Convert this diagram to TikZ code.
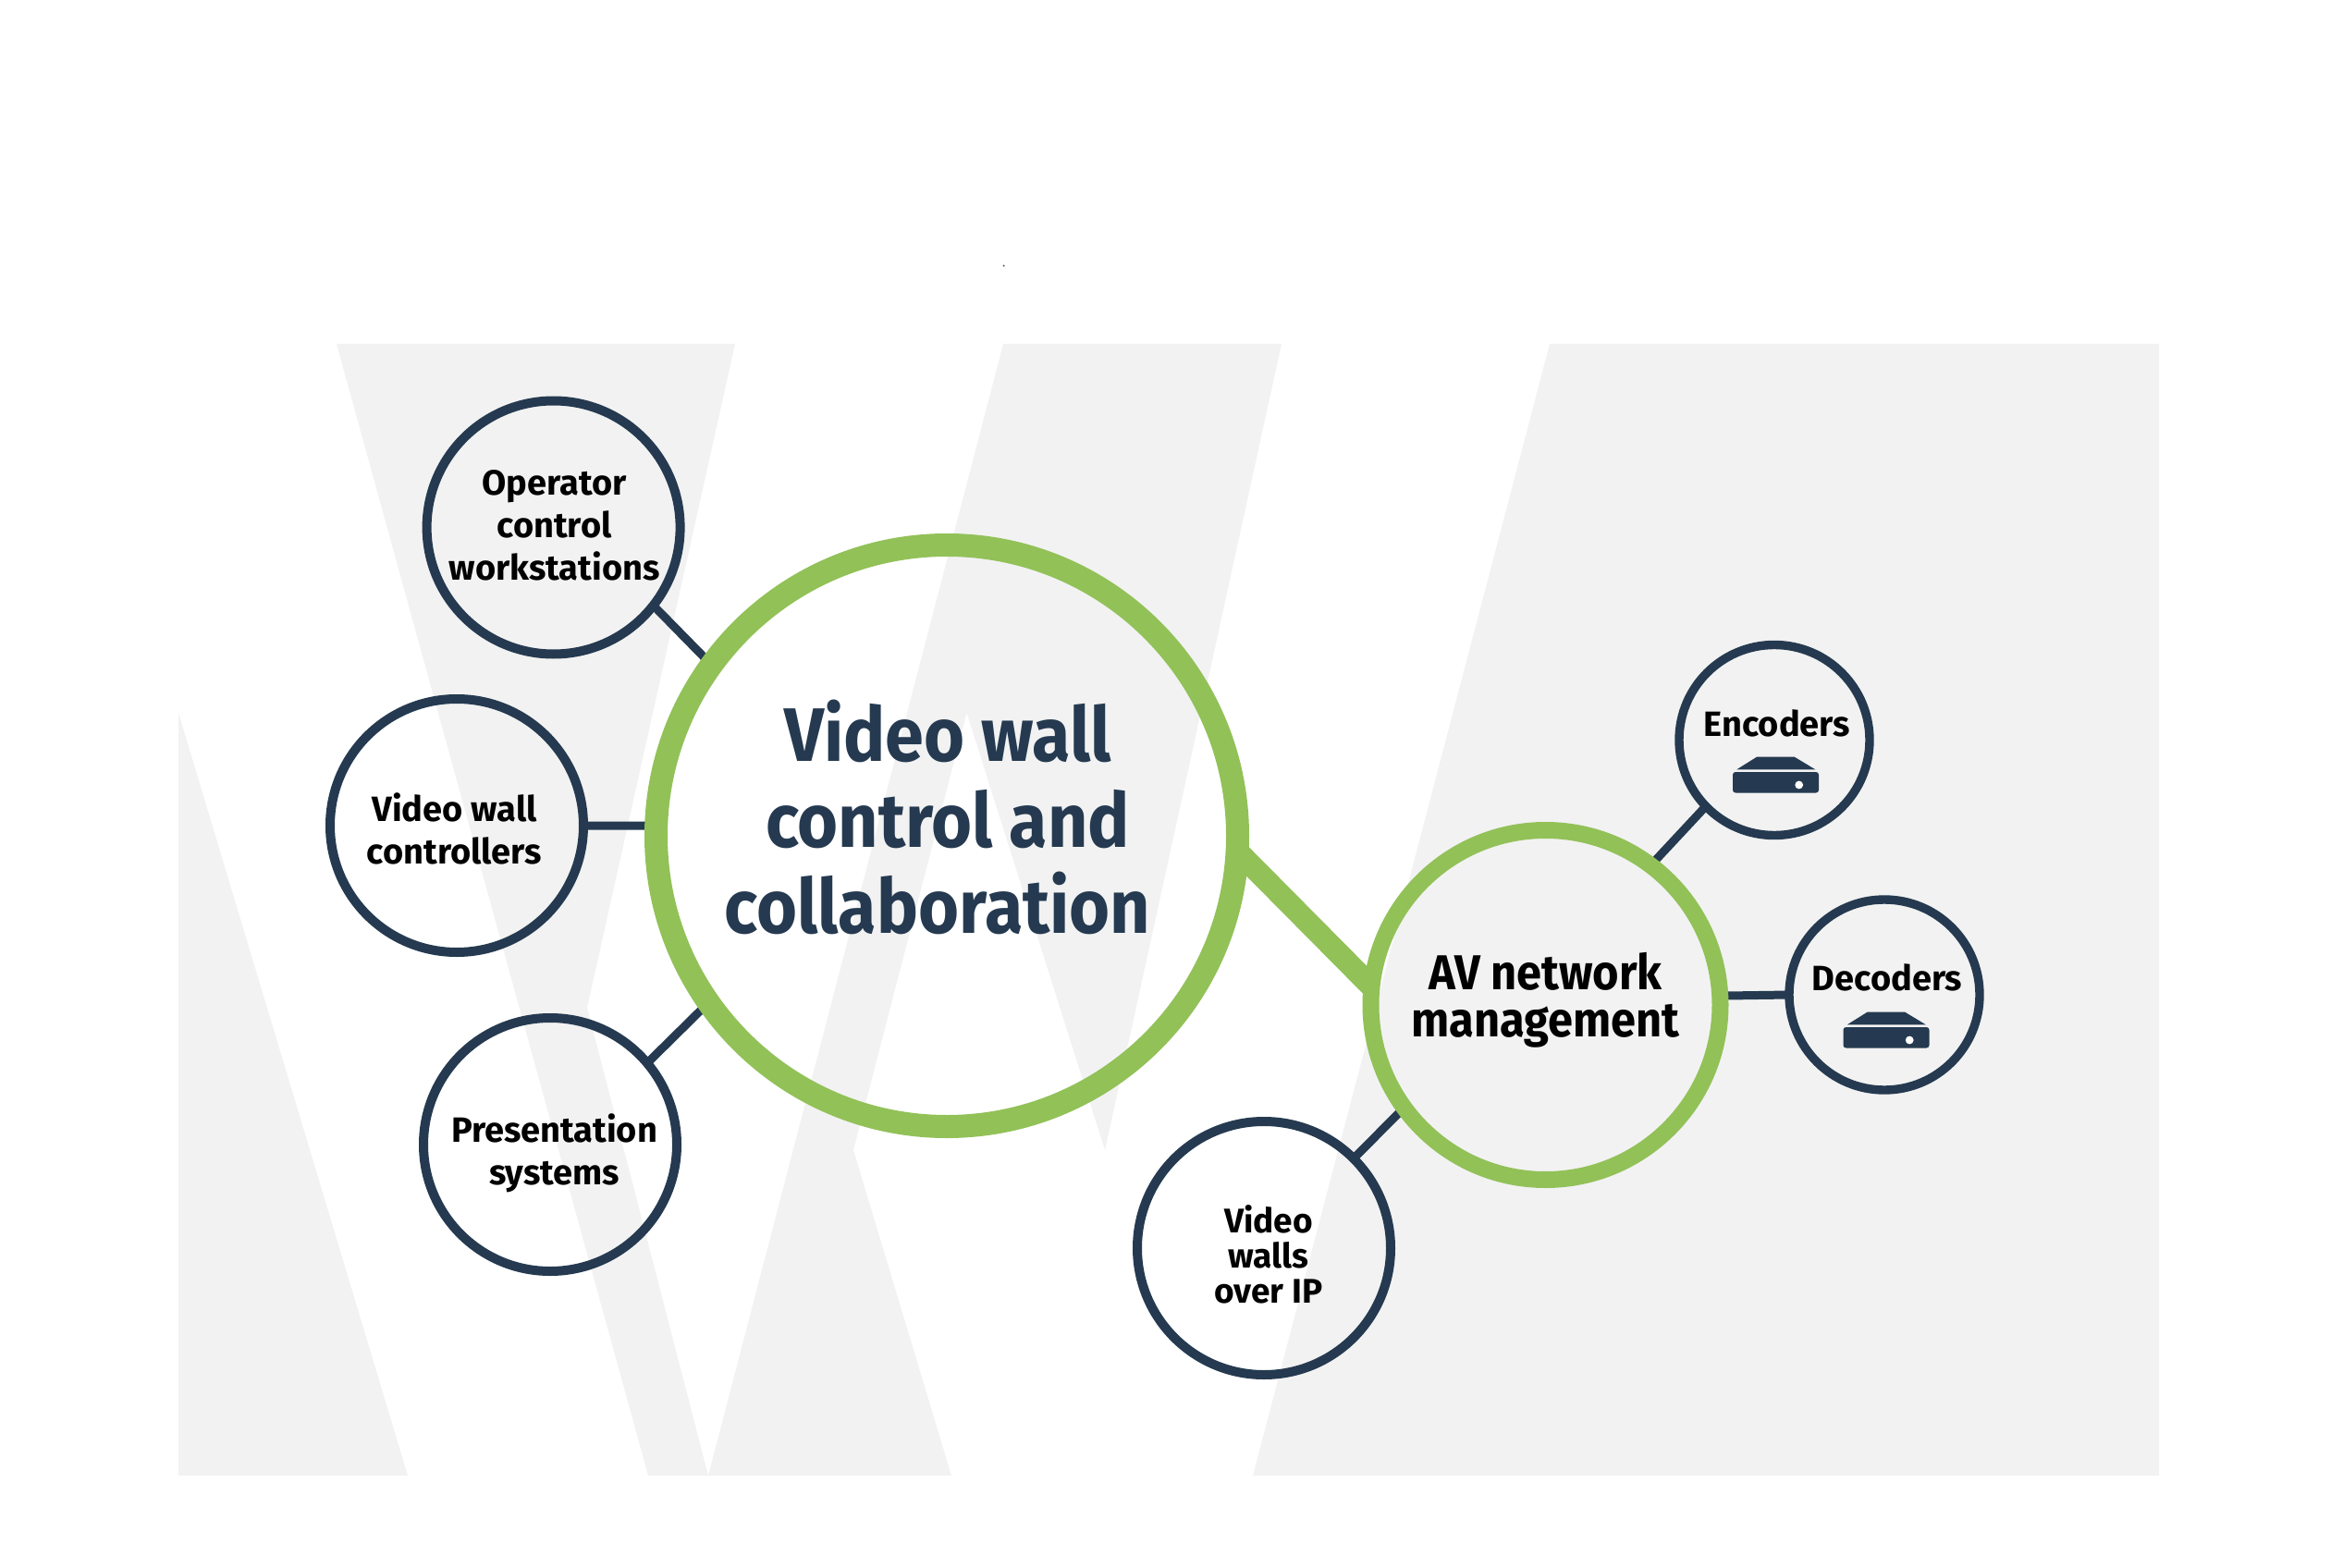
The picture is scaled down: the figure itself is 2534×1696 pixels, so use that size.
\documentclass[tikz,border=0pt]{standalone}
\usepackage{fontspec}
\setmainfont{Fira Sans}
\newfontfamily\narrowface[FakeStretch=0.92]{Fira Sans}
\usetikzlibrary{backgrounds}

\definecolor{navy}{HTML}{253A50}
\definecolor{leaf}{HTML}{92C158}
\definecolor{wallgrey}{HTML}{F2F2F2}

\tikzset{
    ring/.style={circle,draw=navy,line width=5pt,outer sep=0pt,minimum size=137pt},
    smallring/.style={ring,line width=4.7pt,minimum size=103pt},
    greenring/.style={circle,draw=leaf,outer sep=0pt},
    link/.style={draw=navy,line width=4.5pt},
    greenlink/.style={draw=leaf,line width=12pt},
    tag/.style={font=\bfseries\fontsize{19}{23}\selectfont,align=center,text=black}
}

\begin{document}
\begin{tikzpicture}[x=0.5pt,y=-0.5pt]
    \useasboundingbox (0,0) rectangle (2534,1696);

    % Hubs
    \node[greenring,line width=12.5pt,minimum size=314.5pt] (main) at (1024,904) {};
    \node[greenring,line width=9pt,minimum size=189pt] (avnet) at (1671.5,1087) {};

    % Outer rings
    \foreach \name/\cx/\cy in {opctl/598.6/570.5,ctrls/494/893,press/595/1238,ipwall/1367/1350} {
        \node[ring] (\name) at (\cx,\cy) {};
    }
    \node[smallring] (enc) at (1919,800.5) {};
    \node[smallring] (dec) at (2038,1076) {};

    % Labels
    \node[font=\narrowface\bfseries\fontsize{41}{46.5}\selectfont,align=center,text=navy] (mainlabel) at (1025,884) {Video wall\\control and\\collaboration\hspace*{11pt}};
    \node[font=\narrowface\bfseries\fontsize{26.5}{25.7}\selectfont,align=center,text=black] (avlabel) at (1671.5,1082) {AV network\\management};
    \node[tag] (oplabel) at (599.6,568.5) {Operator\\control\\workstations};
    \node[tag] (ctlabel) at (491.5,896) {Video wall\\controllers};
    \node[tag] (prlabel) at (599.6,1247) {Presentation\\systems};
    \node[font=\bfseries\fontsize{18.5}{18.9}\selectfont,align=center,text=black] (iplabel) at (1372,1357) {Video\\walls\\over IP};
    \node[tag] (enlabel) at (1922,782) {Encoders};
    \node[tag] (delabel) at (2041,1057) {Decoders};

    % Box icons
    \foreach \cx/\cy in {1919/800.5,2038.5/1076.5} {
        \begin{scope}[shift={(\cx,\cy)}]
            \fill[navy,rounded corners=1.5pt] (-45,34.5) rectangle (48,57);
            \fill[navy] (-40.7,31.8) -- (-19,18.2) -- (21.7,18.2) -- (44.3,31.8) -- cycle;
            \fill[white] (26.7,48.5) circle (2.2pt);
        \end{scope}
    }

    % Stray mark above the letters
    \fill[navy] (1085.5,287.5) circle (0.5pt);

    % Grey wall letters and connectors sit below the rings
    \begin{scope}[on background layer]
        \fill[wallgrey] (193,771) -- (441,1596) -- (193,1596) -- cycle;
        \fill[wallgrey] (364,372) -- (795,372) -- (635,1090) -- (766,1596) -- (701,1596) -- cycle;
        \fill[wallgrey] (766,1596) -- (1085,372) -- (1386,372) -- (1195,1244) -- (1045.5,771) -- (923,1244) -- (1029,1596) -- cycle;
        \fill[wallgrey] (1676,372) -- (2335,372) -- (2335,1596) -- (1355,1596) -- cycle;

        \foreach \a/\b in {opctl.-38/main.144.2,ctrls.0/main.178,press.40/main.215.4,ipwall.45/avnet.216,avnet.53.5/enc.224,avnet.3.3/dec.180} {
            \draw[link] (\a) -- (\b);
        }
        \draw[greenlink] (main.-3.5) -- (avnet.174);
    \end{scope}
\end{tikzpicture}
\end{document}
